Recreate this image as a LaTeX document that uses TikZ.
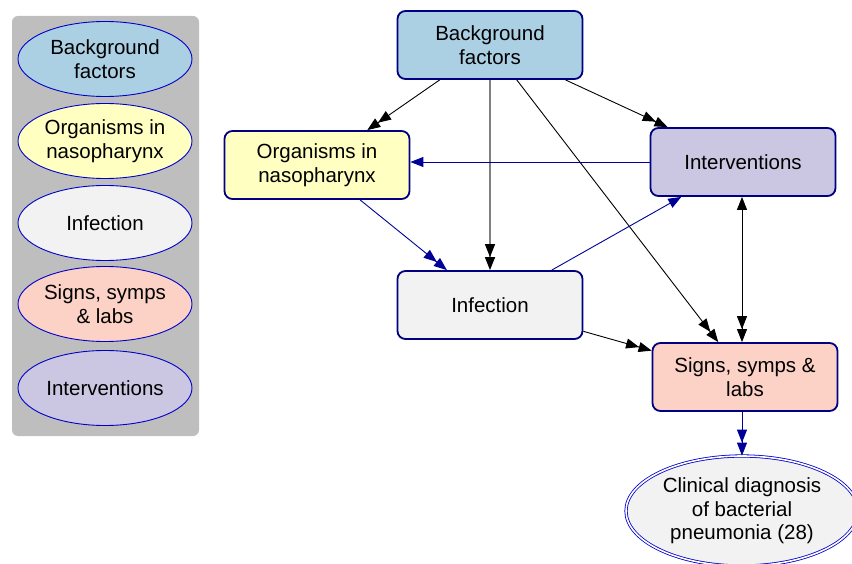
\documentclass[tikz,border=0pt]{standalone}
\usepackage{fontspec}
\setmainfont{Liberation Sans}
\usetikzlibrary{shapes}
\usetikzlibrary{arrows.meta}

\definecolor{bgfill}{HTML}{ABD0E3}
\definecolor{orgfill}{HTML}{FFFFC1}
\definecolor{inffill}{HTML}{F2F2F2}
\definecolor{sigfill}{HTML}{FDD2C6}
\definecolor{intfill}{HTML}{CBC7E2}
\definecolor{navyline}{HTML}{000080}
\definecolor{keyline}{HTML}{0000CC}
\definecolor{edgeblue}{HTML}{000099}
\definecolor{panel}{HTML}{BEBEBE}

\begin{document}
\begin{tikzpicture}[x=1pt,y=-1pt]
			\tikzstyle{every node}=[font=\fontsize{20.5}{23.5}\selectfont,align=center,inner sep=0pt]
			\tikzstyle{factor}=[rectangle,rounded corners=8pt,draw=navyline,line width=1.8pt,minimum width=185pt,minimum height=68pt]
			\tikzstyle{key}=[ellipse,draw=keyline,line width=0.9pt,minimum width=174pt,minimum height=75pt]
			\tikzstyle{one}=[line width=0.9pt,-{Triangle[length=13pt,width=10pt]}]
			\tikzstyle{two}=[line width=0.9pt,-{Triangle[length=13pt,width=10pt]Triangle[length=13pt,width=10pt]}]
			
			\useasboundingbox (0,0) rectangle (852,564);
			
			% key
			\node[fill=panel,rounded corners=6pt,minimum width=187pt,minimum height=420pt] (legend) at (105.5,226) {};
			\node[key,fill=bgfill] (kbg) at (105,59) {Background\\factors};
			\node[key,fill=orgfill] (korg) at (105,141) {Organisms in\\nasopharynx};
			\node[key,fill=inffill] (kinf) at (105,223) {Infection};
			\node[key,fill=sigfill] (ksig) at (105,304) {Signs, symps\\\& labs};
			\node[key,fill=intfill] (kint) at (105,388) {Interventions};
			
			% factors
			\node[factor,fill=bgfill] (bkg) at (490,45) {Background\\factors};
			\node[factor,fill=orgfill] (org) at (317,165) {Organisms in\\nasopharynx};
			\node[factor,fill=intfill] (int) at (743,162) {Interventions};
			\node[factor,fill=inffill] (inf) at (490,305) {Infection};
			\node[factor,fill=sigfill] (sig) at (745,377) {Signs, symps \&\\labs};
			\node[ellipse,draw=keyline,line width=0.8pt,double=white,double distance=1.6pt,fill=inffill,minimum width=232pt,minimum height=110pt] (clin) at (742,511) {Clinical diagnosis\\of bacterial\\pneumonia (28)};
			
			% edges
			\draw[two] (bkg) -- (org);
			\draw[two,draw=gray,line width=1.5pt,-{Triangle[length=13pt,width=10pt,color=black]Triangle[length=13pt,width=10pt,color=black]}] (bkg) -- (inf);
			\draw[two] (bkg) -- (sig);
			\draw[two] (bkg) -- (int);
			\draw[one,edgeblue] (int.west |- 0,162) -- (org.east |- 0,162);
			\draw[two,edgeblue] (org) -- (inf);
			\draw[one,edgeblue] (inf) -- (int);
			\draw[two] (inf) -- (sig);
			\draw[two,{Triangle[length=13pt,width=10pt]}-{Triangle[length=13pt,width=10pt]Triangle[length=13pt,width=10pt]}] (int.south -| 742,0) -- (sig.north -| 742,0);
			\draw[two,edgeblue] (sig.south -| clin) -- (clin.north);
\end{tikzpicture}
\end{document}
